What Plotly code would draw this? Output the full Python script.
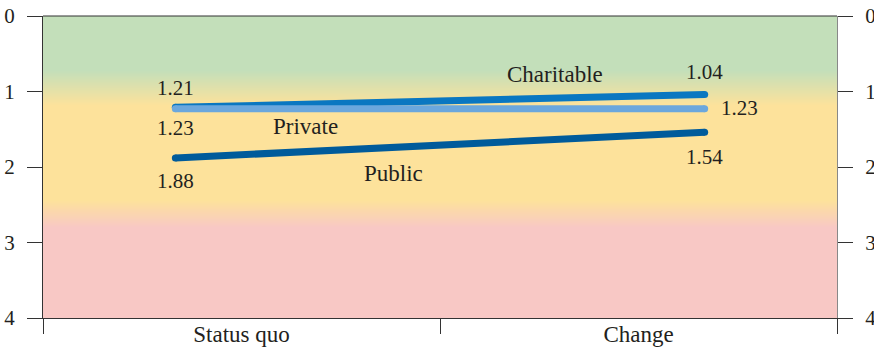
import plotly.graph_objects as go

categories = ["Status quo", "Change"]
public = [1.88, 1.54]
charitable = [1.21, 1.04]
private = [1.23, 1.23]
y_ticks = [0, 1, 2, 3, 4]

colors = {"Public": "#005b9b", "Charitable": "#0a77c1", "Private": "#6ba7dd"}
values = {"Public": public, "Charitable": charitable, "Private": private}

FONT = "Liberation Serif, Times New Roman, serif"
TXT = "#231f20"
xpos = list(range(len(categories)))

fig = go.Figure()

# background gradient (styling): green -> yellow -> pink
grad_y = [0.0, 0.72, 1.18, 2.44, 2.8, 4.0]
grad_z = [[0, 0], [0, 0], [1, 1], [1, 1], [2, 2], [2, 2]]
fig.add_trace(go.Heatmap(
    x=[-0.25, 1.25], y=grad_y, z=grad_z, zsmooth="best", showscale=False,
    zmin=0, zmax=2, hoverinfo="skip",
    colorscale=[[0, "#c3dfba"], [0.5, "#fde29b"], [1, "#f8c8c5"]]))

for name in ["Public", "Charitable", "Private"]:
    fig.add_trace(go.Scatter(
        x=xpos, y=values[name], mode="lines+markers", name=name,
        line=dict(color=colors[name], width=7),
        marker=dict(color=colors[name], size=7, line=dict(width=0)),
        showlegend=False, hoverinfo="skip"))

ann = []
def val_label(x, y, yshift=0, xshift=0, xanchor="center"):
    ann.append(dict(x=x, y=y, xref="x", yref="y", text=f"{y:.2f}", showarrow=False,
                    yshift=yshift, xshift=xshift, xanchor=xanchor,
                    font=dict(family=FONT, size=21, color=TXT)))

val_label(0, charitable[0], yshift=19)
val_label(0, private[0], yshift=-19)
val_label(0, public[0], yshift=-23)
val_label(1, charitable[1], yshift=23)
val_label(1, private[1], xshift=14, xanchor="left", yshift=1)
val_label(1, public[1], yshift=-25)

name_pos = {"Charitable": (0.717, 0.78), "Private": (0.245, 1.47), "Public": (0.413, 2.08)}
for nm, (x, y) in name_pos.items():
    ann.append(dict(x=x, y=y, xref="x", yref="y", text=nm, showarrow=False,
                    font=dict(family=FONT, size=23, color=TXT)))

axis_common = dict(showgrid=False, zeroline=False, ticks="outside", ticklen=15,
                   tickwidth=1, tickcolor="#333333", automargin=False,
                   tickfont=dict(family=FONT, size=21, color=TXT))

fig.update_layout(
    width=874, height=351,
    margin=dict(l=43, r=37, t=16, b=33, autoexpand=False),
    paper_bgcolor="white", plot_bgcolor="white",
    annotations=ann,
    xaxis=dict(range=[-0.25, 1.25], tickvals=[-0.25, 0.5, 1.25], showticklabels=False,
               showgrid=False, zeroline=False, ticks="outside", ticklen=15,
               tickwidth=1, tickcolor="#333333", showline=True, linecolor="#333333",
               linewidth=1.2, automargin=False),
    xaxis2=dict(range=[-0.25, 1.25], overlaying="x", side="bottom", anchor="y",
                tickvals=[0.125, 0.875], ticktext=categories, ticks="", ticklen=0,
                showgrid=False, zeroline=False, showline=False, automargin=False,
                tickfont=dict(family=FONT, size=23, color=TXT)),
    yaxis=dict(range=[4, 0], tickvals=y_ticks, showline=True, linecolor="#333333",
               linewidth=1, ticklabelstandoff=8, **axis_common),
    yaxis2=dict(range=[4, 0], tickvals=y_ticks, overlaying="y", side="right",
                anchor="x", showline=True, linecolor="#888888", linewidth=1,
                ticklabelstandoff=8, **axis_common),
)
fig.add_shape(type="line", xref="paper", yref="paper", x0=0, x1=1, y0=1, y1=1,
              line=dict(color="#333333", width=1.2))
fig.add_trace(go.Scatter(x=[0.125], y=[0], xaxis="x2", yaxis="y2", mode="markers",
                         marker=dict(opacity=0), showlegend=False, hoverinfo="skip"))

fig.write_html("out.html", config={"displayModeBar": False},
               post_script="document.body.style.margin='0';document.body.style.overflow='hidden';")
